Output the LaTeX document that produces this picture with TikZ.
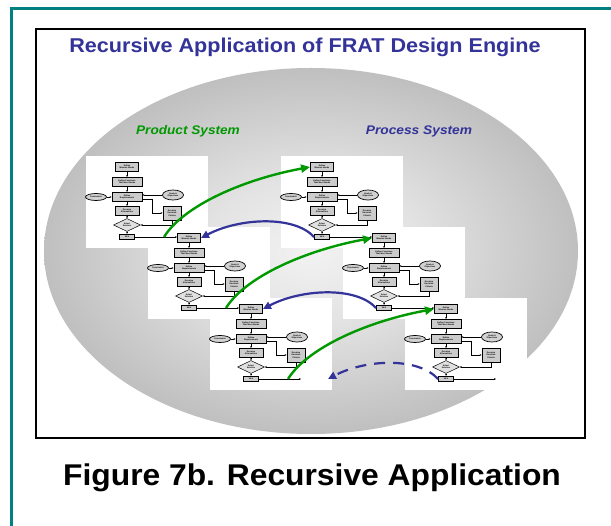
\documentclass[tikz,border=0pt]{standalone}
\usepackage{fontspec}
\usepackage{graphicx}
\setmainfont{Liberation Sans}
\usetikzlibrary{shapes.geometric,arrows.meta}

\definecolor{frameteal}{RGB}{0,128,128}
\definecolor{prodgreen}{RGB}{0,153,0}
\definecolor{procblue}{RGB}{51,51,153}

% soft grey bowl behind the flowcharts
\pgfdeclareradialshading{bowlshade}{\pgfpoint{0bp}{0bp}}{%
  color(0bp)=(black!5); color(10bp)=(black!11); color(25bp)=(black!25); color(50bp)=(black!25)}

\tikzset{
  tiny/.style={font=\fontsize{2.1}{2.4}\selectfont\bfseries, align=center, inner sep=0pt},
  fbox/.style={tiny, draw=black, line width=0.9pt, fill=black!20},
  fell/.style={tiny, ellipse, draw=black, line width=0.7pt, fill=black!18},
  fdia/.style={tiny, diamond, aspect=2, draw=black, line width=0.5pt, fill=black!12},
  fa/.style={line width=0.55pt, -{Stealth[length=2pt,width=1.8pt]}},
  greenarrow/.style={draw=prodgreen, line width=2.4pt, -{Triangle[length=9pt,width=8pt]}},
  bluearrow/.style={draw=procblue, line width=2.2pt, -{Triangle[length=8pt,width=7.5pt]}},
}

% one FRAT design-engine panel: #1 name prefix, (#2,#3) centre of its top box
\newcommand\fratpanel[3]{%
\begin{scope}[shift={(#2,#3)}]
  \fill[white] (-41,-11) rectangle (81,81);
  \node[fbox, minimum width=23pt, minimum height=9pt] (#1-mn) at (0,0) {Define\\Mission Needs};
  \node[fbox, minimum width=30pt, minimum height=9pt] (#1-fn) at (0,15) {Define Functions\\That Meet Needs};
  \node[fbox, minimum width=30pt, minimum height=9pt] (#1-rq) at (0,30) {Define\\Requirements};
  \node[fell, minimum width=21pt, minimum height=7pt] (#1-cn) at (-31,30) {Constraints};
  \node[fell, minimum width=21pt, minimum height=10pt] (#1-go) at (46,28) {Goals \&\\Objectives};
  \node[fbox, minimum width=24pt, minimum height=9pt] (#1-al) at (0,44) {Develop\\Alternatives};
  \node[fbox, minimum width=18pt, minimum height=14pt] (#1-dc) at (45,46) {Develop\\Decision\\Criteria};
  \node[fdia, minimum width=27pt, minimum height=13pt] (#1-sd) at (0,58) {Select\\Solution};
  \node[fbox, minimum width=15pt, minimum height=5.5pt] (#1-vv) at (0,70) {V\&V};
  \coordinate (#1-gs) at (37,70);
  \coordinate (#1-out) at (50,70);
  \coordinate (#1-back) at (77,70);
  \draw[fa] (#1-mn) -- (#1-fn);
  \draw[fa] (#1-fn) -- (#1-rq);
  \draw[fa] (#1-cn) -- (#1-rq);
  \draw[fa] (#1-go.west) -- (#1-go.west -| #1-rq.east);
  \draw[fa] (#1-rq) -- (#1-al);
  \draw[fa] ([yshift=-2pt]#1-rq.east) -- ++(10,0) |- (#1-dc.west);
  \draw[fa] (#1-dc.south) |- (#1-sd.east);
  \draw[fa] (#1-al) -- (#1-sd);
  \draw[fa] (#1-sd) -- (#1-vv);
\end{scope}}

\begin{document}
\begin{tikzpicture}[x=1pt,y=-1pt]
  \fill[white] (0,0) rectangle (611,526);
  \useasboundingbox (0,0) rectangle (611,526);

  % page frame and slide frame
  \draw[frameteal, line width=3pt] (11.5,526) -- (11.5,8.5) -- (611,8.5);
  \shade[shading=bowlshade] (311,251) ellipse [x radius=267pt, y radius=183pt];
  \draw[line width=2.5pt] (36,29) rectangle (585,438);

  \node[text=procblue, font=\fontsize{20}{24}\selectfont\bfseries] (title) at (305,47)
    {\scalebox{1.08}[1]{Recursive Application of FRAT Design Engine}};
  \node[text=prodgreen, font=\fontsize{12.5}{15}\selectfont\bfseries\itshape] (prodlabel) at (188,131)
    {\scalebox{1.09}[1]{Product System}};
  \node[text=procblue, font=\fontsize{12.5}{15}\selectfont\bfseries\itshape] (proclabel) at (419,131)
    {\scalebox{1.1}[1]{Process System}};

  % product column (left) and process column (right)
  \fratpanel{pa}{127}{167}
  \fratpanel{pb}{322}{167}
  \fratpanel{pc}{189}{238}
  \fratpanel{pd}{384}{238}
  \fratpanel{pe}{251}{309}
  \fratpanel{pf}{446}{309}

  % hand-over from each level to the next
  \draw[fa] (pa-vv.east) -- (pa-vv.east -| pc-mn.west);
  \draw[fa] (pc-vv.east) -- (pc-vv.east -| pe-mn.west);
  \draw[fa] (pe-vv.east) -- (pe-out);
  \draw[fa] (pb-vv.east) -- (pb-vv.east -| pd-mn.west);
  \draw[fa] (pd-vv.east) -- (pd-vv.east -| pf-mn.west);
  \draw[fa] (pf-vv.east) -- (pf-out);

  % product -> process
  \draw[greenarrow] (pa-gs) .. controls +(20,-32) and +(-65,12) .. (pb-mn.west);
  \draw[greenarrow] (pc-gs) .. controls +(20,-32) and +(-65,12) .. (pd-mn.west);
  \draw[greenarrow] (pe-gs) .. controls +(20,-32) and +(-65,12) .. (pf-mn.west);

  % process -> next product level
  \draw[bluearrow] (pb-vv.west) .. controls +(-20,-22) and +(38,-20) .. (pc-mn.east);
  \draw[bluearrow] (pd-vv.west) .. controls +(-20,-22) and +(38,-20) .. (pe-mn.east);
  \draw[bluearrow, dash pattern=on 11pt off 8pt] (pf-vv.west) .. controls +(-20,-22) and +(38,-20) .. (pe-back);

  \node[font=\fontsize{30}{34}\selectfont\bfseries] (caption) at (312,478)
    {\scalebox{1.06}[1]{Figure 7b. Recursive Application}};
\end{tikzpicture}
\end{document}
